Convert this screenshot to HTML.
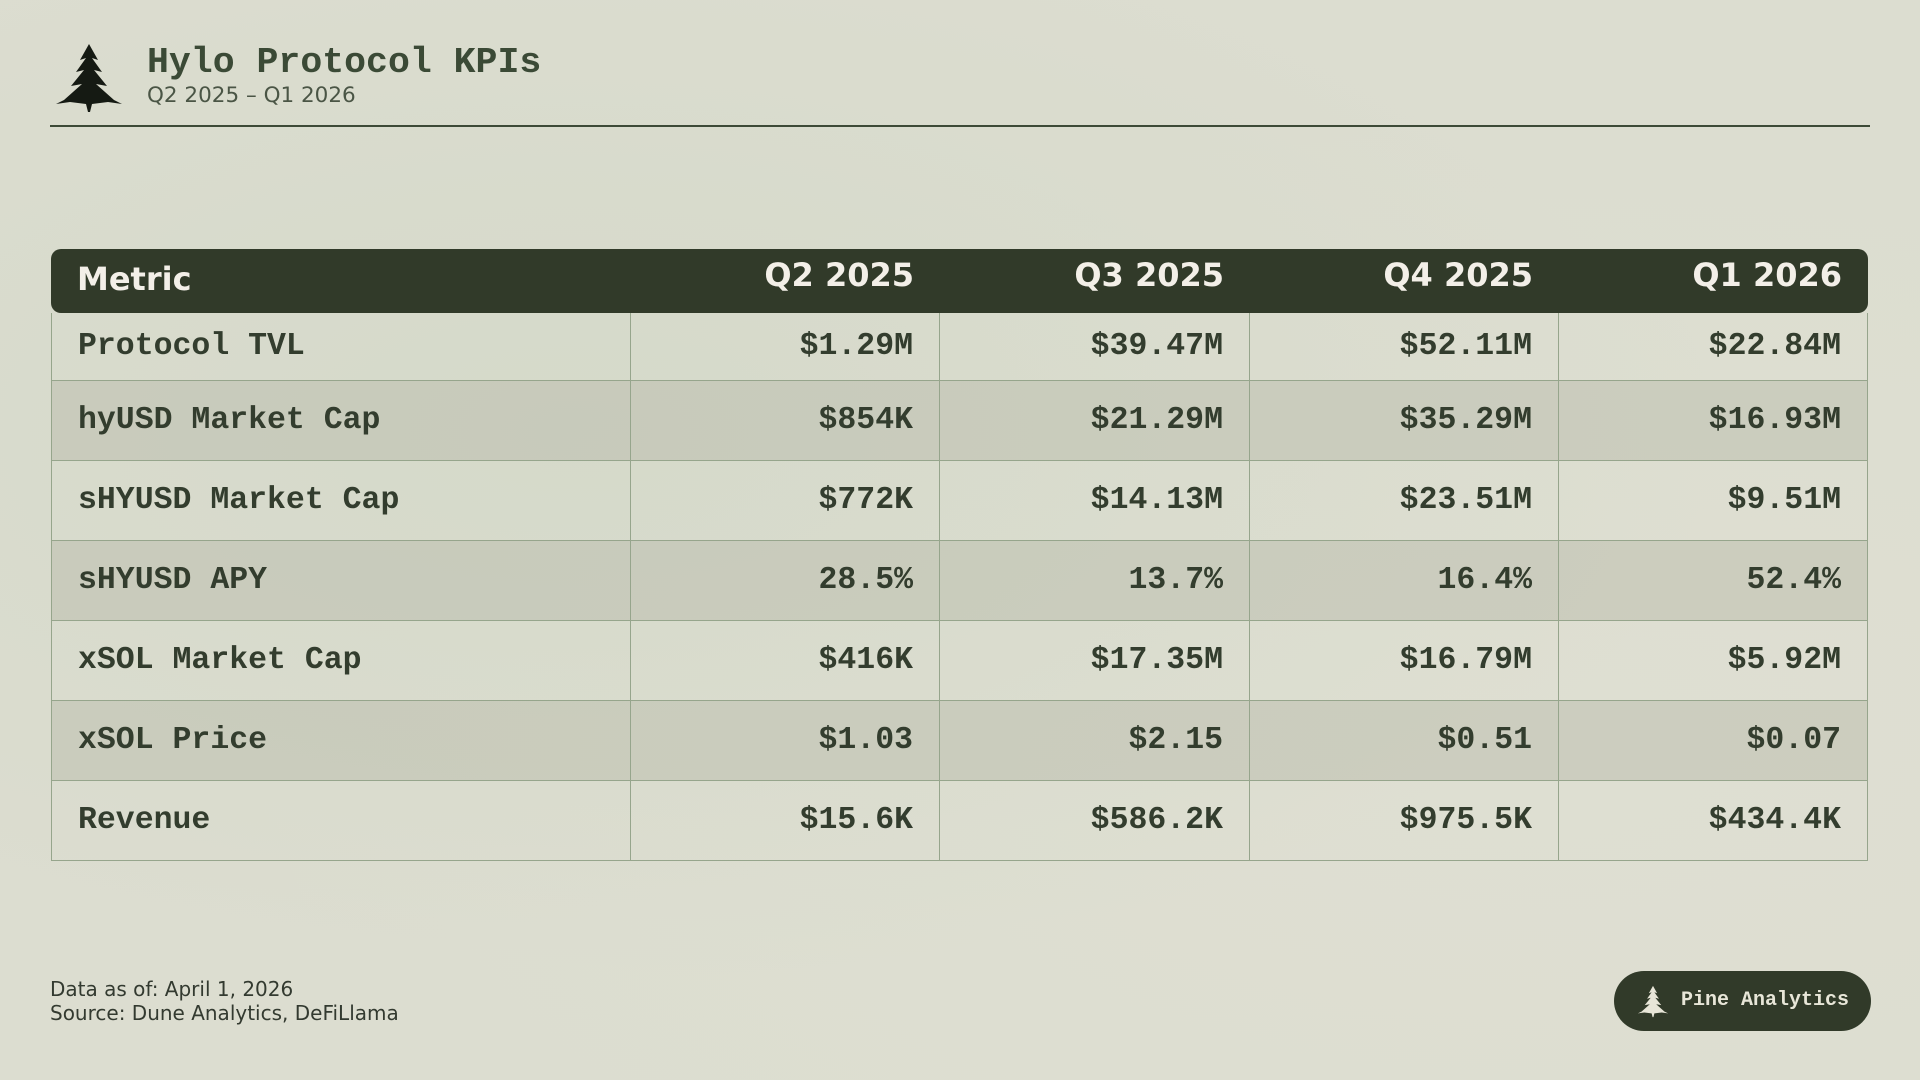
<!DOCTYPE html>
<html><head><meta charset="utf-8"><style>
html,body{margin:0;padding:0}
body{width:1920px;height:1080px;position:relative;overflow:hidden;background:#dcddd0;
background-image:radial-gradient(ellipse at 30% 40%,rgba(200,210,190,.35),transparent 60%),radial-gradient(ellipse at 80% 70%,rgba(225,225,212,.5),transparent 60%);}
.title{position:absolute;left:147px;top:42px;font:bold 36.5px "Liberation Mono",monospace;color:#3b4a36;}
.sub{position:absolute;left:147px;top:83px;font:21.5px "DejaVu Sans",sans-serif;color:#4a5545}
.rule{position:absolute;left:50px;top:125px;width:1820px;height:2px;background:#3d4a37}
table{position:absolute;left:51px;top:249px;width:1817px;border-collapse:separate;border-spacing:0;table-layout:fixed}
th{background:#313a29;color:#f3efe8;font:bold 32px "DejaVu Sans",sans-serif;height:64px;text-align:right;padding:0 26px 12px 26px;box-sizing:border-box}
th:first-child{text-align:left;border-radius:10px 0 0 10px;padding-bottom:4px}
th:last-child{border-radius:0 10px 10px 0}
td{font:bold 31.5px "Liberation Mono",monospace;color:#333d2e;text-align:right;padding:0 26px;height:79px;border-right:1px solid #96a58c;border-bottom:1px solid #96a58c;}
td:first-child{text-align:left;border-left:1px solid #96a58c}
tr.f td{height:67px}
tr.d td{background:rgba(185,187,172,.5)}
.foot{position:absolute;left:50px;top:977px;font:20px/24px "DejaVu Sans",sans-serif;color:#333a30}
.badge{position:absolute;left:1614px;top:971px;width:257px;height:60px;border-radius:30px;background:#313a29;color:#e8e6d8;font:bold 20px "Liberation Mono",monospace;}
.badge span{position:absolute;left:67px;top:18px}
</style></head><body>
<svg style="position:absolute;left:52px;top:42px" width="74" height="70" viewBox="0 0 74 70">
<g fill="#151a13">
<path d="M37 2 L46 18 L40 16 L50 30 L42 28 L55 44 L44 42 L62 58 L70 62 L56 60 L40 62 L38 70 L36 70 L34 62 L18 60 L4 62 L12 58 L30 42 L19 44 L32 28 L24 30 L34 16 L28 18 Z"/>
</g></svg>
<div class="title">Hylo Protocol KPIs</div>
<div class="sub">Q2 2025 – Q1 2026</div>
<div class="rule"></div>
<table>
<colgroup><col style="width:580px"><col style="width:309px"><col style="width:310px"><col style="width:309px"><col style="width:309px"></colgroup>
<tr><th>Metric</th><th>Q2 2025</th><th>Q3 2025</th><th>Q4 2025</th><th>Q1 2026</th></tr>
<tr class="f"><td>Protocol TVL</td><td>$1.29M</td><td>$39.47M</td><td>$52.11M</td><td>$22.84M</td></tr>
<tr class="d"><td>hyUSD Market Cap</td><td>$854K</td><td>$21.29M</td><td>$35.29M</td><td>$16.93M</td></tr>
<tr><td>sHYUSD Market Cap</td><td>$772K</td><td>$14.13M</td><td>$23.51M</td><td>$9.51M</td></tr>
<tr class="d"><td>sHYUSD APY</td><td>28.5%</td><td>13.7%</td><td>16.4%</td><td>52.4%</td></tr>
<tr><td>xSOL Market Cap</td><td>$416K</td><td>$17.35M</td><td>$16.79M</td><td>$5.92M</td></tr>
<tr class="d"><td>xSOL Price</td><td>$1.03</td><td>$2.15</td><td>$0.51</td><td>$0.07</td></tr>
<tr><td>Revenue</td><td>$15.6K</td><td>$586.2K</td><td>$975.5K</td><td>$434.4K</td></tr>
</table>
<div class="foot">Data as of: April 1, 2026<br>Source: Dune Analytics, DeFiLlama</div>
<div class="badge">
<svg style="position:absolute;left:22px;top:13px" width="34" height="34" viewBox="0 0 74 70"><path fill="#e8e6d8" d="M37 2 L46 18 L40 16 L50 30 L42 28 L55 44 L44 42 L62 58 L70 62 L56 60 L40 62 L38 70 L36 70 L34 62 L18 60 L4 62 L12 58 L30 42 L19 44 L32 28 L24 30 L34 16 L28 18 Z"/></svg>
<span>Pine Analytics</span></div>
</body></html>
